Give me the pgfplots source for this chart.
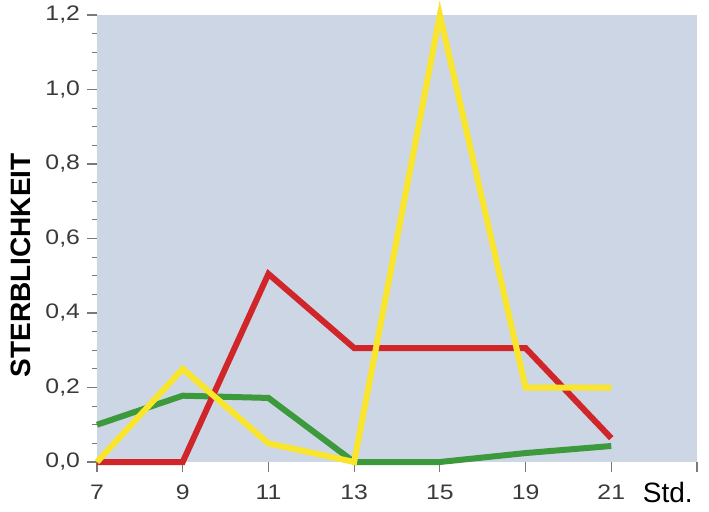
\documentclass[border=0pt]{standalone}
\usepackage{pgfplots}
\pgfplotsset{compat=1.18}
\usepackage{fontspec}
\setmainfont{Liberation Sans}
\newfontfamily\tickfont[FakeStretch=1.18]{Liberation Sans}

\definecolor{bgblue}{HTML}{CDD6E4}
\definecolor{redline}{HTML}{D0262A}
\definecolor{yellowline}{HTML}{F8E52C}
\definecolor{greenline}{HTML}{3C9A3C}
\definecolor{tickgray}{HTML}{7A7A7A}
\definecolor{labelgray}{HTML}{3A3A3A}

\begin{document}
\begin{tikzpicture}
\useasboundingbox (-48.5pt,-24.5pt) rectangle (306pt,231pt);
\begin{axis}[
    scale only axis,
    width=300pt, height=223.5pt,
    xmin=0, xmax=7, ymin=0, ymax=1.2,
    axis line style={draw=none},
    axis background/.style={fill=bgblue},
    xtick={0,1,2,3,4,5,6,7},
    xticklabels={7,9,11,13,15,19,21,},
    ytick={0,0.2,0.4,0.6,0.8,1.0,1.2},
    minor ytick={0.05,0.1,...,1.15},
    tick align=outside,
    major tick length=5pt,
    minor tick length=2.5pt,
    tick style={draw=tickgray, line width=0.6pt},
    xtick pos=bottom, ytick pos=left,
    /pgf/number format/.cd, fixed, fixed zerofill, precision=1, use comma,
    assume math mode=true,
    /pgfplots/.cd,
    tick label style={font=\tickfont\fontsize{10.5}{12}\selectfont, text=labelgray},
    xticklabel style={yshift=-3pt},
    yticklabel style={xshift=0pt},
    ylabel={\fontsize{14}{16}\selectfont\bfseries STERBLICHKEIT},
    ylabel style={at={(rel axis cs:0,0.44)}, anchor=center, yshift=38pt},
    xlabel={\fontsize{14}{16}\selectfont Std.},
    xlabel style={at={(axis cs:6.66,0)}, anchor=center, yshift=-15pt},
    every axis plot/.append style={line width=3pt, line join=miter, mark=none},
    clip=false,
]
\addplot[greenline] coordinates {(0,0.10) (1,0.178) (2,0.172) (3,0) (4,0) (5,0.024) (6,0.043)};
\addplot[redline] coordinates {(0,0) (1,0) (2,0.505) (3,0.306) (4,0.306) (5,0.306) (6,0.064)};
\addplot[yellowline] coordinates {(0,0) (1,0.25) (2,0.05) (3,0) (4,1.2) (5,0.2) (6,0.2)};
\end{axis}
\end{tikzpicture}
\end{document}
